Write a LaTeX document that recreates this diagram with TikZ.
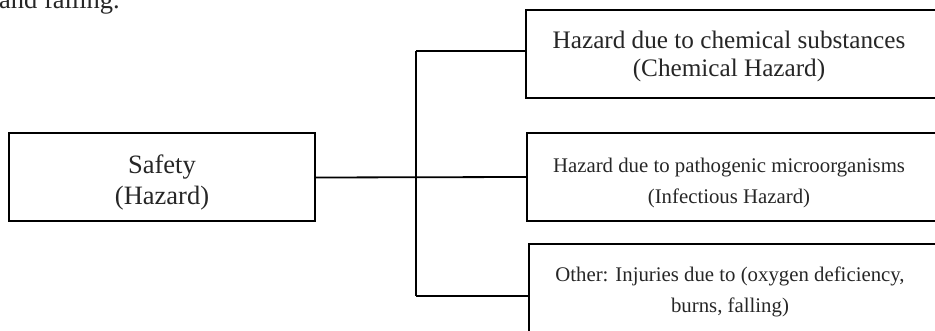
\documentclass[tikz,border=0pt]{standalone}
\usepackage{fontspec}
\setmainfont{Liberation Serif}
\begin{document}
\begin{tikzpicture}[x=1pt,y=-1pt,
  frame/.style={draw=black, line width=2pt, rectangle, outer sep=0pt, inner sep=0pt},
  link/.style={draw=black, line width=1.8pt},
  bigtext/.style={align=center, inner sep=0pt, text=black!85, font=\fontsize{26.5}{31.5}\selectfont},
  midtext/.style={align=center, inner sep=0pt, text=black!85, font=\fontsize{25.2}{28.5}\selectfont},
  smalltext/.style={align=center, inner sep=0pt, text=black!85, font=\fontsize{20.8}{31.5}\selectfont}]
\useasboundingbox (0,0) rectangle (935,331);
\clip (0,0) rectangle (935,331);

% tail of the preceding paragraph
\node[anchor=base east, inner sep=0pt, text=black!85, font=\fontsize{26.5}{31.5}\selectfont] (tail) at (120,8.5) {and falling.};

% root box
\node[frame, minimum width=306pt, minimum height=88pt] (safety) at (162,177.5) {};
\node[bigtext] (safetytxt) at (162,182.5) {Safety\\(Hazard)};

% category boxes (open towards the right)
\node[frame, anchor=north west, minimum width=450pt, minimum height=88pt] (chem) at (526,10) {};
\node[midtext] (chemtxt) at (729,56.6) {Hazard due to chemical substances\\(Chemical Hazard)};

\node[frame, anchor=north west, minimum width=450pt, minimum height=88pt] (infect) at (527,133) {};
\node[smalltext] (infecttxt) at (729,182.9) {Hazard due to pathogenic microorganisms\\(Infectious Hazard)};

\node[frame, anchor=north west, minimum width=450pt, minimum height=120pt] (other) at (529,244) {};
\node[smalltext] (othertxt) at (730,292) {Other: Injuries due to (oxygen deficiency,\\burns, falling)};

% tree connectors
\coordinate (jtop) at (416,51);
\coordinate (jbot) at (416,296);
\draw[link] (safety.east) -- (infect.west);
\draw[link] (jtop) -- (jbot);
\draw[link] (jtop) -- (jtop -| chem.west);
\draw[link] (jbot) -- (jbot -| other.west);
\end{tikzpicture}
\end{document}
